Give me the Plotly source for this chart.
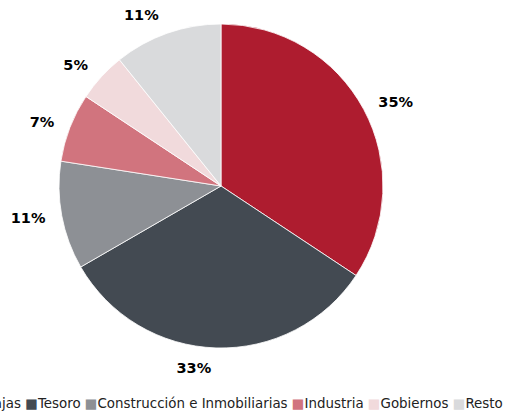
import plotly.graph_objects as go

# Portfolio breakdown by sector (percent)
sectors = ["Bancos y Cajas", "Tesoro", "Construcción e Inmobiliarias",
           "Industria", "Gobiernos", "Resto"]
shares = [35, 33, 11, 7, 5, 11]
colors = ["#AE1C2F", "#434A52", "#8D9095", "#D1747E", "#F1DADC", "#D9DADC"]

FONT = "Verdana, DejaVu Sans, sans-serif"

# pie geometry in pixels (figure is 507 x 412)
W, H = 507, 412
CX, CY, R = 221, 186, 162
R_LABEL = 174  # labels sit a little further out than the slices


def domain(radius):
    return dict(
        x=[(CX - radius) / W, (CX + radius) / W],
        y=[1 - (CY + radius) / H, 1 - (CY - radius) / H],
    )


fig = go.Figure()

# visible slices
fig.add_trace(
    go.Pie(
        labels=sectors,
        values=shares,
        sort=False,
        direction="clockwise",
        rotation=0,
        marker=dict(colors=colors, line=dict(color="#FFFFFF", width=0.8)),
        textinfo="none",
        domain=domain(R),
        showlegend=False,
        hoverinfo="label+value",
    )
)

# percentage labels, laid out around a slightly wider invisible ring
fig.add_trace(
    go.Pie(
        labels=sectors,
        values=shares,
        sort=False,
        direction="clockwise",
        rotation=0,
        marker=dict(colors=["rgba(0,0,0,0)"] * len(shares),
                    line=dict(width=0)),
        texttemplate="%{value}%",
        textposition="outside",
        textfont=dict(family=FONT, size=14.5, color="#000000", weight="bold"),
        domain=domain(R_LABEL),
        showlegend=False,
        hoverinfo="skip",
    )
)

# Single-row legend, right-aligned at the bottom of the page
legend_text = " ".join(
    f"<span style='color:{c}'>■</span>{s}" for s, c in zip(sectors, colors)
)
fig.add_annotation(
    text=legend_text,
    xref="paper", yref="paper",
    x=1, y=1 - 403 / H,
    xanchor="right", yanchor="middle",
    xshift=-2,
    showarrow=False,
    font=dict(family=FONT, size=13.4, color="#222222"),
)

fig.update_layout(
    width=W,
    height=H,
    margin=dict(l=0, r=0, t=0, b=0),
    paper_bgcolor="#FFFFFF",
    plot_bgcolor="#FFFFFF",
)

fig.write_html("out.html")
